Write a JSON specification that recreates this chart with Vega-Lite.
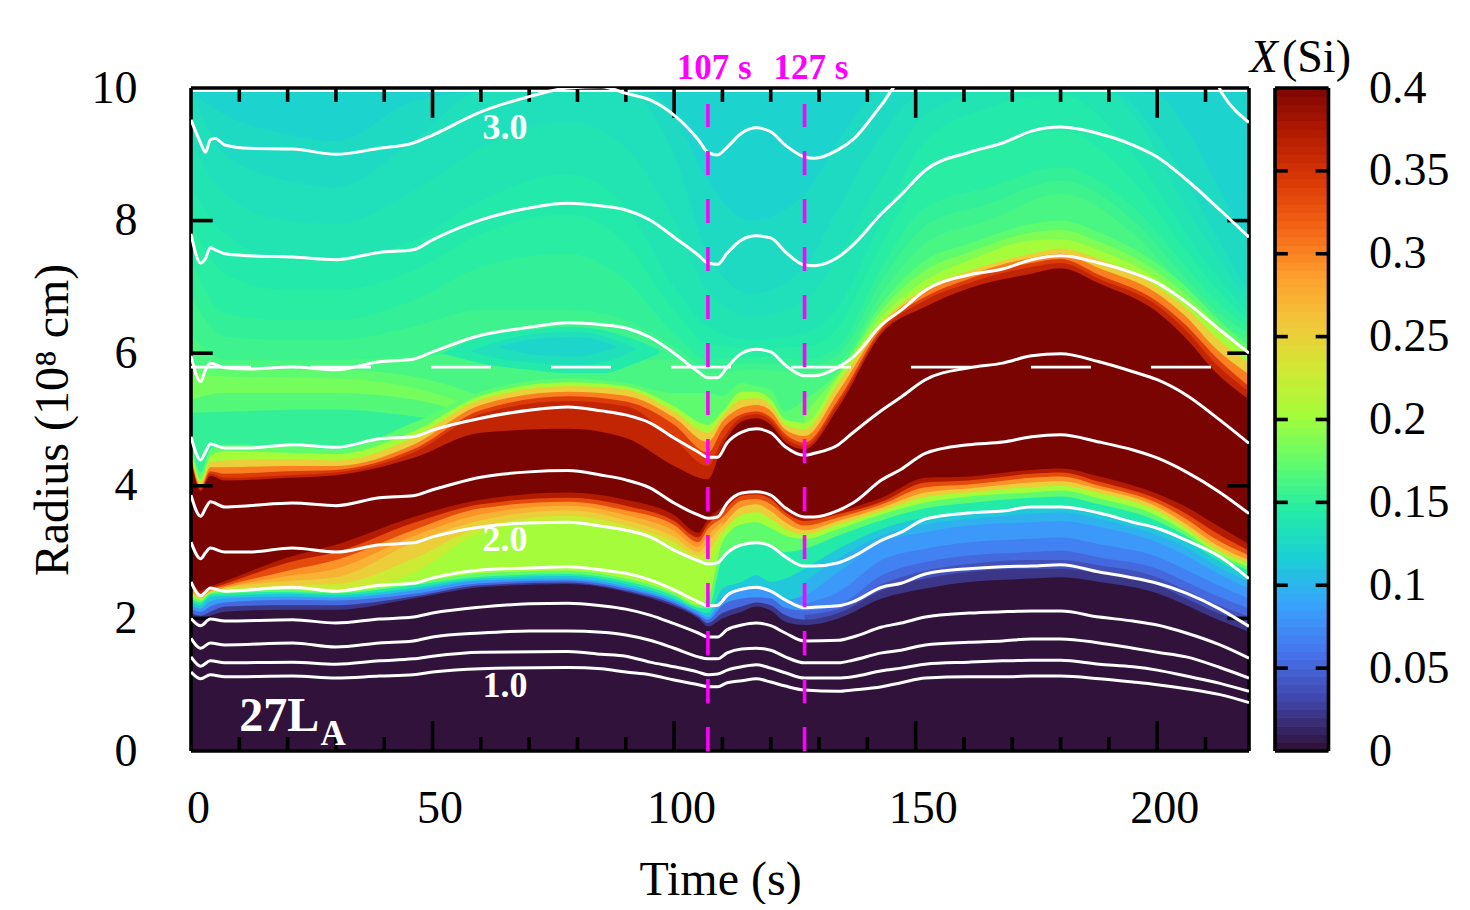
{"$schema":"https://vega.github.io/schema/vega-lite/v6.json","background":"white","padding":{"left":29,"top":35,"right":0,"bottom":0},"spacing":-2,
"config":{"view":{"stroke":null},"axis":{"grid":false,"domain":false,"ticks":false,"labelFlush":false,"labelFont":"Liberation Serif","titleFont":"Liberation Serif","labelFontSize":46,"titleFontSize":48,"labelColor":"black","titleColor":"black","titleFontWeight":"normal"},"text":{"font":"Liberation Serif"}},
"datasets":{
"bg":[{"b":1,"v":0.118,"t":0,"r":9.94},{"b":1,"v":0.118,"t":219,"r":9.94},
{"b":41,"v":0.125,"t":0,"r":9.94},{"b":41,"v":0.125,"t":7,"r":9.6},{"b":41,"v":0.125,"t":20,"r":9.3},{"b":41,"v":0.125,"t":30,"r":9.2},{"b":41,"v":0.125,"t":46,"r":9.8},{"b":41,"v":0.125,"t":60,"r":9.94},{"b":41,"v":0.125,"t":95,"r":9.94},{"b":41,"v":0.125,"t":100,"r":9.6},{"b":41,"v":0.125,"t":107,"r":8.6},{"b":41,"v":0.125,"t":116,"r":8.0},{"b":41,"v":0.125,"t":127,"r":8.4},{"b":41,"v":0.125,"t":134,"r":9.2},{"b":41,"v":0.125,"t":143,"r":9.94},{"b":41,"v":0.125,"t":195,"r":9.94},{"b":41,"v":0.125,"t":200,"r":9.9},{"b":41,"v":0.125,"t":206,"r":9.4},{"b":41,"v":0.125,"t":212,"r":8.6},{"b":41,"v":0.125,"t":219,"r":7.6},
{"b":2,"v":0.13,"t":0,"r":9.94},{"b":2,"v":0.13,"t":7,"r":9.0},{"b":2,"v":0.13,"t":20,"r":8.6},{"b":2,"v":0.13,"t":30,"r":8.5},{"b":2,"v":0.13,"t":46,"r":9.2},{"b":2,"v":0.13,"t":60,"r":9.94},{"b":2,"v":0.13,"t":90,"r":9.94},{"b":2,"v":0.13,"t":100,"r":9.0},{"b":2,"v":0.13,"t":107,"r":7.5},{"b":2,"v":0.13,"t":116,"r":6.9},{"b":2,"v":0.13,"t":127,"r":7.3},{"b":2,"v":0.13,"t":134,"r":8.2},{"b":2,"v":0.13,"t":143,"r":9.3},{"b":2,"v":0.13,"t":152,"r":9.94},{"b":2,"v":0.13,"t":190,"r":9.94},{"b":2,"v":0.13,"t":200,"r":9.3},{"b":2,"v":0.13,"t":206,"r":8.6},{"b":2,"v":0.13,"t":212,"r":7.8},{"b":2,"v":0.13,"t":219,"r":6.9},
{"b":42,"v":0.135,"t":0,"r":9.2},{"b":42,"v":0.135,"t":7,"r":8.4},{"b":42,"v":0.135,"t":20,"r":8.0},{"b":42,"v":0.135,"t":30,"r":7.95},{"b":42,"v":0.135,"t":46,"r":8.45},{"b":42,"v":0.135,"t":60,"r":9.1},{"b":42,"v":0.135,"t":78,"r":9.5},{"b":42,"v":0.135,"t":90,"r":9.1},{"b":42,"v":0.135,"t":100,"r":8.0},{"b":42,"v":0.135,"t":107,"r":6.95},{"b":42,"v":0.135,"t":116,"r":6.55},{"b":42,"v":0.135,"t":127,"r":6.8},{"b":42,"v":0.135,"t":134,"r":7.45},{"b":42,"v":0.135,"t":143,"r":8.65},{"b":42,"v":0.135,"t":152,"r":9.6},{"b":42,"v":0.135,"t":165,"r":9.94},{"b":42,"v":0.135,"t":190,"r":9.94},{"b":42,"v":0.135,"t":195,"r":9.6},{"b":42,"v":0.135,"t":206,"r":8.2},{"b":42,"v":0.135,"t":212,"r":7.5},{"b":42,"v":0.135,"t":219,"r":6.75},
{"b":3,"v":0.14,"t":0,"r":8.5},{"b":3,"v":0.14,"t":7,"r":7.8},{"b":3,"v":0.14,"t":20,"r":7.4},{"b":3,"v":0.14,"t":30,"r":7.4},{"b":3,"v":0.14,"t":46,"r":7.7},{"b":3,"v":0.14,"t":60,"r":8.3},{"b":3,"v":0.14,"t":78,"r":8.7},{"b":3,"v":0.14,"t":90,"r":8.2},{"b":3,"v":0.14,"t":100,"r":7.0},{"b":3,"v":0.14,"t":107,"r":6.4},{"b":3,"v":0.14,"t":116,"r":6.2},{"b":3,"v":0.14,"t":127,"r":6.3},{"b":3,"v":0.14,"t":134,"r":6.7},{"b":3,"v":0.14,"t":143,"r":8.0},{"b":3,"v":0.14,"t":152,"r":9.2},{"b":3,"v":0.14,"t":165,"r":9.7},{"b":3,"v":0.14,"t":180,"r":9.9},{"b":3,"v":0.14,"t":195,"r":9.0},{"b":3,"v":0.14,"t":206,"r":7.8},{"b":3,"v":0.14,"t":212,"r":7.2},{"b":3,"v":0.14,"t":219,"r":6.6},
{"b":43,"v":0.145,"t":0,"r":7.95},{"b":43,"v":0.145,"t":7,"r":7.2},{"b":43,"v":0.145,"t":20,"r":6.95},{"b":43,"v":0.145,"t":30,"r":6.95},{"b":43,"v":0.145,"t":46,"r":7.25},{"b":43,"v":0.145,"t":60,"r":7.8},{"b":43,"v":0.145,"t":78,"r":8.1},{"b":43,"v":0.145,"t":90,"r":7.65},{"b":43,"v":0.145,"t":100,"r":6.65},{"b":43,"v":0.145,"t":107,"r":6.15},{"b":43,"v":0.145,"t":116,"r":6.08},{"b":43,"v":0.145,"t":127,"r":6.1},{"b":43,"v":0.145,"t":134,"r":6.4},{"b":43,"v":0.145,"t":143,"r":7.65},{"b":43,"v":0.145,"t":152,"r":8.7},{"b":43,"v":0.145,"t":165,"r":9.1},{"b":43,"v":0.145,"t":180,"r":9.35},{"b":43,"v":0.145,"t":195,"r":8.6},{"b":43,"v":0.145,"t":206,"r":7.55},{"b":43,"v":0.145,"t":212,"r":7.0},{"b":43,"v":0.145,"t":219,"r":6.5},
{"b":4,"v":0.15,"t":0,"r":7.4},{"b":4,"v":0.15,"t":7,"r":6.6},{"b":4,"v":0.15,"t":20,"r":6.5},{"b":4,"v":0.15,"t":30,"r":6.5},{"b":4,"v":0.15,"t":46,"r":6.8},{"b":4,"v":0.15,"t":60,"r":7.3},{"b":4,"v":0.15,"t":78,"r":7.5},{"b":4,"v":0.15,"t":90,"r":7.1},{"b":4,"v":0.15,"t":100,"r":6.3},{"b":4,"v":0.15,"t":107,"r":5.9},{"b":4,"v":0.15,"t":116,"r":5.95},{"b":4,"v":0.15,"t":127,"r":5.9},{"b":4,"v":0.15,"t":134,"r":6.1},{"b":4,"v":0.15,"t":143,"r":7.3},{"b":4,"v":0.15,"t":152,"r":8.2},{"b":4,"v":0.15,"t":165,"r":8.5},{"b":4,"v":0.15,"t":180,"r":8.8},{"b":4,"v":0.15,"t":195,"r":8.2},{"b":4,"v":0.15,"t":206,"r":7.3},{"b":4,"v":0.15,"t":212,"r":6.8},{"b":4,"v":0.15,"t":219,"r":6.4},
{"b":44,"v":0.155,"t":0,"r":6.85},{"b":44,"v":0.155,"t":7,"r":6.25},{"b":44,"v":0.155,"t":20,"r":6.2},{"b":44,"v":0.155,"t":30,"r":6.2},{"b":44,"v":0.155,"t":46,"r":6.4},{"b":44,"v":0.155,"t":60,"r":6.65},{"b":44,"v":0.155,"t":78,"r":6.65},{"b":44,"v":0.155,"t":90,"r":6.5},{"b":44,"v":0.155,"t":100,"r":6.1},{"b":44,"v":0.155,"t":107,"r":5.8},{"b":44,"v":0.155,"t":116,"r":5.85},{"b":44,"v":0.155,"t":127,"r":5.8},{"b":44,"v":0.155,"t":134,"r":5.98},{"b":44,"v":0.155,"t":143,"r":7.1},{"b":44,"v":0.155,"t":152,"r":7.92},{"b":44,"v":0.155,"t":165,"r":8.25},{"b":44,"v":0.155,"t":180,"r":8.6},{"b":44,"v":0.155,"t":195,"r":8.0},{"b":44,"v":0.155,"t":206,"r":7.12},{"b":44,"v":0.155,"t":212,"r":6.65},{"b":44,"v":0.155,"t":219,"r":6.3},
{"b":5,"v":0.16,"t":0,"r":6.3},{"b":5,"v":0.16,"t":7,"r":5.9},{"b":5,"v":0.16,"t":20,"r":5.9},{"b":5,"v":0.16,"t":30,"r":5.9},{"b":5,"v":0.16,"t":46,"r":5.95},{"b":5,"v":0.16,"t":60,"r":6.0},{"b":5,"v":0.16,"t":78,"r":5.8},{"b":5,"v":0.16,"t":90,"r":5.9},{"b":5,"v":0.16,"t":100,"r":5.9},{"b":5,"v":0.16,"t":107,"r":5.7},{"b":5,"v":0.16,"t":116,"r":5.75},{"b":5,"v":0.16,"t":127,"r":5.7},{"b":5,"v":0.16,"t":134,"r":5.85},{"b":5,"v":0.16,"t":143,"r":6.9},{"b":5,"v":0.16,"t":152,"r":7.65},{"b":5,"v":0.16,"t":165,"r":8.0},{"b":5,"v":0.16,"t":180,"r":8.4},{"b":5,"v":0.16,"t":195,"r":7.8},{"b":5,"v":0.16,"t":206,"r":6.95},{"b":5,"v":0.16,"t":212,"r":6.5},{"b":5,"v":0.16,"t":219,"r":6.2},
{"b":6,"v":0.17,"t":0,"r":5.85},{"b":6,"v":0.17,"t":7,"r":5.75},{"b":6,"v":0.17,"t":30,"r":5.75},{"b":6,"v":0.17,"t":46,"r":5.65},{"b":6,"v":0.17,"t":62,"r":5.3},
{"b":7,"v":0.18,"t":0,"r":5.7},{"b":7,"v":0.18,"t":7,"r":5.65},{"b":7,"v":0.18,"t":30,"r":5.62},{"b":7,"v":0.18,"t":46,"r":5.48},{"b":7,"v":0.18,"t":62,"r":5.1},
{"b":8,"v":0.165,"t":0,"r":5.3},{"b":8,"v":0.165,"t":7,"r":5.4},{"b":8,"v":0.165,"t":30,"r":5.4},{"b":8,"v":0.165,"t":46,"r":5.3},{"b":8,"v":0.165,"t":62,"r":5.0},
{"b":9,"v":0.15,"t":0,"r":5.1},{"b":9,"v":0.15,"t":30,"r":5.15},{"b":9,"v":0.15,"t":46,"r":5.05},{"b":9,"v":0.15,"t":62,"r":4.9}],
"blobs":[{"b":1,"v":0.14,"t":52,"r":6.0,"r0":6.0},{"b":1,"v":0.14,"t":60,"r":6.25,"r0":5.85},{"b":1,"v":0.14,"t":70,"r":6.35,"r0":5.75},{"b":1,"v":0.14,"t":78,"r":6.4,"r0":5.7},{"b":1,"v":0.14,"t":85,"r":6.35,"r0":5.7},{"b":1,"v":0.14,"t":92,"r":6.2,"r0":5.85},{"b":1,"v":0.14,"t":97,"r":6.05,"r0":6.0},
{"b":2,"v":0.13,"t":58,"r":6.04,"r0":6.02},{"b":2,"v":0.13,"t":65,"r":6.2,"r0":5.9},{"b":2,"v":0.13,"t":72,"r":6.3,"r0":5.85},{"b":2,"v":0.13,"t":80,"r":6.32,"r0":5.82},{"b":2,"v":0.13,"t":87,"r":6.22,"r0":5.9},{"b":2,"v":0.13,"t":92,"r":6.07,"r0":6.05},
{"b":3,"v":0.12,"t":64,"r":6.1,"r0":6.08},{"b":3,"v":0.12,"t":72,"r":6.22,"r0":5.97},{"b":3,"v":0.12,"t":80,"r":6.24,"r0":5.95},{"b":3,"v":0.12,"t":85,"r":6.18,"r0":6.02},{"b":3,"v":0.12,"t":88,"r":6.1,"r0":6.09}],
"heat":[
{"b":11,"v":0.17,"t":0,"r":4.7},{"b":11,"v":0.17,"t":2,"r":4.2},{"b":11,"v":0.17,"t":4,"r":4.55},{"b":11,"v":0.17,"t":7,"r":4.62},{"b":11,"v":0.17,"t":20,"r":4.6},{"b":11,"v":0.17,"t":30,"r":4.55},{"b":11,"v":0.17,"t":46,"r":4.95},{"b":11,"v":0.17,"t":60,"r":5.42},{"b":11,"v":0.17,"t":78,"r":5.62},{"b":11,"v":0.17,"t":90,"r":5.55},{"b":11,"v":0.17,"t":100,"r":5.4},{"b":11,"v":0.17,"t":107,"r":5.4},{"b":11,"v":0.17,"t":110,"r":5.35},{"b":11,"v":0.17,"t":114,"r":5.55},{"b":11,"v":0.17,"t":117,"r":5.5},{"b":11,"v":0.17,"t":120,"r":5.45},{"b":11,"v":0.17,"t":123,"r":5.12},{"b":11,"v":0.17,"t":127,"r":5.3},{"b":11,"v":0.17,"t":134,"r":5.72},{"b":11,"v":0.17,"t":143,"r":6.75},{"b":11,"v":0.17,"t":152,"r":7.4},{"b":11,"v":0.17,"t":161,"r":7.65},{"b":11,"v":0.17,"t":174,"r":7.95},{"b":11,"v":0.17,"t":180,"r":8.0},{"b":11,"v":0.17,"t":188,"r":7.82},{"b":11,"v":0.17,"t":200,"r":7.35},{"b":11,"v":0.17,"t":206,"r":7.0},{"b":11,"v":0.17,"t":212,"r":6.55},{"b":11,"v":0.17,"t":219,"r":6.1},
{"b":50,"v":0.185,"t":127,"r":5.1},{"b":50,"v":0.185,"t":134,"r":5.68},{"b":50,"v":0.185,"t":143,"r":6.65},{"b":50,"v":0.185,"t":152,"r":7.25},{"b":50,"v":0.185,"t":161,"r":7.52},{"b":50,"v":0.185,"t":174,"r":7.82},{"b":50,"v":0.185,"t":180,"r":7.86},{"b":50,"v":0.185,"t":188,"r":7.68},{"b":50,"v":0.185,"t":200,"r":7.23},{"b":50,"v":0.185,"t":206,"r":6.88},{"b":50,"v":0.185,"t":212,"r":6.46},{"b":50,"v":0.185,"t":219,"r":6.04},
{"b":12,"v":0.2,"t":0,"r":4.6},{"b":12,"v":0.2,"t":2,"r":4.1},{"b":12,"v":0.2,"t":4,"r":4.45},{"b":12,"v":0.2,"t":7,"r":4.52},{"b":12,"v":0.2,"t":20,"r":4.5},{"b":12,"v":0.2,"t":30,"r":4.48},{"b":12,"v":0.2,"t":46,"r":4.82},{"b":12,"v":0.2,"t":60,"r":5.36},{"b":12,"v":0.2,"t":78,"r":5.56},{"b":12,"v":0.2,"t":90,"r":5.5},{"b":12,"v":0.2,"t":100,"r":5.2},{"b":12,"v":0.2,"t":107,"r":4.92},{"b":12,"v":0.2,"t":110,"r":5.12},{"b":12,"v":0.2,"t":114,"r":5.42},{"b":12,"v":0.2,"t":117,"r":5.42},{"b":12,"v":0.2,"t":120,"r":5.3},{"b":12,"v":0.2,"t":123,"r":5.0},{"b":12,"v":0.2,"t":127,"r":4.95},{"b":12,"v":0.2,"t":134,"r":5.65},{"b":12,"v":0.2,"t":143,"r":6.55},{"b":12,"v":0.2,"t":152,"r":7.1},{"b":12,"v":0.2,"t":161,"r":7.4},{"b":12,"v":0.2,"t":174,"r":7.7},{"b":12,"v":0.2,"t":180,"r":7.72},{"b":12,"v":0.2,"t":188,"r":7.55},{"b":12,"v":0.2,"t":200,"r":7.12},{"b":12,"v":0.2,"t":206,"r":6.78},{"b":12,"v":0.2,"t":212,"r":6.38},{"b":12,"v":0.2,"t":219,"r":5.98},
{"b":13,"v":0.25,"t":0,"r":4.5},{"b":13,"v":0.25,"t":2,"r":4.05},{"b":13,"v":0.25,"t":4,"r":4.35},{"b":13,"v":0.25,"t":7,"r":4.38},{"b":13,"v":0.25,"t":20,"r":4.4},{"b":13,"v":0.25,"t":30,"r":4.38},{"b":13,"v":0.25,"t":46,"r":4.72},{"b":13,"v":0.25,"t":60,"r":5.3},{"b":13,"v":0.25,"t":78,"r":5.5},{"b":13,"v":0.25,"t":90,"r":5.45},{"b":13,"v":0.25,"t":100,"r":5.12},{"b":13,"v":0.25,"t":107,"r":4.8},{"b":13,"v":0.25,"t":110,"r":5.05},{"b":13,"v":0.25,"t":114,"r":5.3},{"b":13,"v":0.25,"t":117,"r":5.32},{"b":13,"v":0.25,"t":120,"r":5.22},{"b":13,"v":0.25,"t":123,"r":4.92},{"b":13,"v":0.25,"t":127,"r":4.85},{"b":13,"v":0.25,"t":134,"r":5.55},{"b":13,"v":0.25,"t":143,"r":6.47},{"b":13,"v":0.25,"t":152,"r":6.98},{"b":13,"v":0.25,"t":161,"r":7.24},{"b":13,"v":0.25,"t":174,"r":7.5},{"b":13,"v":0.25,"t":180,"r":7.58},{"b":13,"v":0.25,"t":188,"r":7.42},{"b":13,"v":0.25,"t":200,"r":7.0},{"b":13,"v":0.25,"t":206,"r":6.68},{"b":13,"v":0.25,"t":212,"r":6.25},{"b":13,"v":0.25,"t":219,"r":5.85},
{"b":14,"v":0.3,"t":0,"r":4.45},{"b":14,"v":0.3,"t":2,"r":4.0},{"b":14,"v":0.3,"t":4,"r":4.28},{"b":14,"v":0.3,"t":7,"r":4.28},{"b":14,"v":0.3,"t":20,"r":4.3},{"b":14,"v":0.3,"t":30,"r":4.3},{"b":14,"v":0.3,"t":46,"r":4.62},{"b":14,"v":0.3,"t":60,"r":5.22},{"b":14,"v":0.3,"t":78,"r":5.42},{"b":14,"v":0.3,"t":90,"r":5.36},{"b":14,"v":0.3,"t":100,"r":5.03},{"b":14,"v":0.3,"t":107,"r":4.66},{"b":14,"v":0.3,"t":110,"r":4.97},{"b":14,"v":0.3,"t":114,"r":5.18},{"b":14,"v":0.3,"t":117,"r":5.22},{"b":14,"v":0.3,"t":120,"r":5.13},{"b":14,"v":0.3,"t":123,"r":4.85},{"b":14,"v":0.3,"t":127,"r":4.75},{"b":14,"v":0.3,"t":134,"r":5.42},{"b":14,"v":0.3,"t":143,"r":6.42},{"b":14,"v":0.3,"t":152,"r":6.93},{"b":14,"v":0.3,"t":161,"r":7.18},{"b":14,"v":0.3,"t":174,"r":7.44},{"b":14,"v":0.3,"t":180,"r":7.5},{"b":14,"v":0.3,"t":188,"r":7.28},{"b":14,"v":0.3,"t":200,"r":6.9},{"b":14,"v":0.3,"t":206,"r":6.55},{"b":14,"v":0.3,"t":212,"r":6.08},{"b":14,"v":0.3,"t":219,"r":5.68},
{"b":15,"v":0.34,"t":0,"r":4.42},{"b":15,"v":0.34,"t":2,"r":3.97},{"b":15,"v":0.34,"t":4,"r":4.22},{"b":15,"v":0.34,"t":7,"r":4.18},{"b":15,"v":0.34,"t":20,"r":4.22},{"b":15,"v":0.34,"t":30,"r":4.24},{"b":15,"v":0.34,"t":46,"r":4.55},{"b":15,"v":0.34,"t":60,"r":5.14},{"b":15,"v":0.34,"t":78,"r":5.35},{"b":15,"v":0.34,"t":90,"r":5.27},{"b":15,"v":0.34,"t":100,"r":4.92},{"b":15,"v":0.34,"t":107,"r":4.5},{"b":15,"v":0.34,"t":110,"r":4.85},{"b":15,"v":0.34,"t":114,"r":5.08},{"b":15,"v":0.34,"t":117,"r":5.12},{"b":15,"v":0.34,"t":120,"r":5.03},{"b":15,"v":0.34,"t":123,"r":4.78},{"b":15,"v":0.34,"t":127,"r":4.65},{"b":15,"v":0.34,"t":134,"r":5.3},{"b":15,"v":0.34,"t":143,"r":6.38},{"b":15,"v":0.34,"t":152,"r":6.85},{"b":15,"v":0.34,"t":161,"r":7.12},{"b":15,"v":0.34,"t":174,"r":7.36},{"b":15,"v":0.34,"t":180,"r":7.42},{"b":15,"v":0.34,"t":188,"r":7.18},{"b":15,"v":0.34,"t":200,"r":6.78},{"b":15,"v":0.34,"t":206,"r":6.42},{"b":15,"v":0.34,"t":212,"r":5.95},{"b":15,"v":0.34,"t":219,"r":5.5},
{"b":16,"v":0.36,"t":0,"r":4.4},{"b":16,"v":0.36,"t":2,"r":3.95},{"b":16,"v":0.36,"t":4,"r":4.18},{"b":16,"v":0.36,"t":7,"r":4.12},{"b":16,"v":0.36,"t":20,"r":4.16},{"b":16,"v":0.36,"t":30,"r":4.2},{"b":16,"v":0.36,"t":46,"r":4.5},{"b":16,"v":0.36,"t":60,"r":5.08},{"b":16,"v":0.36,"t":78,"r":5.28},{"b":16,"v":0.36,"t":90,"r":5.2},{"b":16,"v":0.36,"t":100,"r":4.7},{"b":16,"v":0.36,"t":107,"r":4.3},{"b":16,"v":0.36,"t":110,"r":4.7},{"b":16,"v":0.36,"t":114,"r":5.03},{"b":16,"v":0.36,"t":117,"r":5.08},{"b":16,"v":0.36,"t":120,"r":4.98},{"b":16,"v":0.36,"t":123,"r":4.72},{"b":16,"v":0.36,"t":127,"r":4.6},{"b":16,"v":0.36,"t":134,"r":5.25},{"b":16,"v":0.36,"t":143,"r":6.34},{"b":16,"v":0.36,"t":152,"r":6.8},{"b":16,"v":0.36,"t":161,"r":7.06},{"b":16,"v":0.36,"t":174,"r":7.3},{"b":16,"v":0.36,"t":180,"r":7.36},{"b":16,"v":0.36,"t":188,"r":7.12},{"b":16,"v":0.36,"t":200,"r":6.72},{"b":16,"v":0.36,"t":206,"r":6.34},{"b":16,"v":0.36,"t":212,"r":5.85},{"b":16,"v":0.36,"t":219,"r":5.42},
{"b":17,"v":0.4,"t":0,"r":4.38},{"b":17,"v":0.4,"t":2,"r":3.92},{"b":17,"v":0.4,"t":4,"r":4.15},{"b":17,"v":0.4,"t":7,"r":4.08},{"b":17,"v":0.4,"t":20,"r":4.12},{"b":17,"v":0.4,"t":30,"r":4.16},{"b":17,"v":0.4,"t":46,"r":4.42},{"b":17,"v":0.4,"t":60,"r":4.8},{"b":17,"v":0.4,"t":78,"r":4.86},{"b":17,"v":0.4,"t":90,"r":4.72},{"b":17,"v":0.4,"t":100,"r":4.3},{"b":17,"v":0.4,"t":107,"r":4.1},{"b":17,"v":0.4,"t":110,"r":4.6},{"b":17,"v":0.4,"t":114,"r":4.97},{"b":17,"v":0.4,"t":117,"r":5.02},{"b":17,"v":0.4,"t":120,"r":4.92},{"b":17,"v":0.4,"t":123,"r":4.66},{"b":17,"v":0.4,"t":127,"r":4.55},{"b":17,"v":0.4,"t":134,"r":5.18},{"b":17,"v":0.4,"t":143,"r":6.3},{"b":17,"v":0.4,"t":152,"r":6.7},{"b":17,"v":0.4,"t":161,"r":6.98},{"b":17,"v":0.4,"t":174,"r":7.2},{"b":17,"v":0.4,"t":180,"r":7.28},{"b":17,"v":0.4,"t":188,"r":7.05},{"b":17,"v":0.4,"t":200,"r":6.62},{"b":17,"v":0.4,"t":206,"r":6.22},{"b":17,"v":0.4,"t":212,"r":5.72},{"b":17,"v":0.4,"t":219,"r":5.3},
{"b":21,"v":0.37,"t":0,"r":2.55},{"b":21,"v":0.37,"t":2,"r":2.42},{"b":21,"v":0.37,"t":4,"r":2.48},{"b":21,"v":0.37,"t":7,"r":2.56},{"b":21,"v":0.37,"t":20,"r":2.92},{"b":21,"v":0.37,"t":30,"r":3.11},{"b":21,"v":0.37,"t":46,"r":3.53},{"b":21,"v":0.37,"t":60,"r":3.79},{"b":21,"v":0.37,"t":78,"r":3.9},{"b":21,"v":0.37,"t":90,"r":3.79},{"b":21,"v":0.37,"t":100,"r":3.56},{"b":21,"v":0.37,"t":105,"r":3.29},{"b":21,"v":0.37,"t":107,"r":3.5},{"b":21,"v":0.37,"t":110,"r":3.68},{"b":21,"v":0.37,"t":114,"r":3.9},{"b":21,"v":0.37,"t":117,"r":3.92},{"b":21,"v":0.37,"t":120,"r":3.85},{"b":21,"v":0.37,"t":123,"r":3.66},{"b":21,"v":0.37,"t":127,"r":3.53},{"b":21,"v":0.37,"t":134,"r":3.62},{"b":21,"v":0.37,"t":143,"r":3.82},{"b":21,"v":0.37,"t":152,"r":4.12},{"b":21,"v":0.37,"t":161,"r":4.14},{"b":21,"v":0.37,"t":174,"r":4.24},{"b":21,"v":0.37,"t":180,"r":4.26},{"b":21,"v":0.37,"t":188,"r":4.14},{"b":21,"v":0.37,"t":200,"r":3.88},{"b":21,"v":0.37,"t":206,"r":3.68},{"b":21,"v":0.37,"t":212,"r":3.42},{"b":21,"v":0.37,"t":219,"r":3.12},
{"b":22,"v":0.33,"t":0,"r":2.5},{"b":22,"v":0.33,"t":2,"r":2.38},{"b":22,"v":0.33,"t":4,"r":2.45},{"b":22,"v":0.33,"t":7,"r":2.52},{"b":22,"v":0.33,"t":20,"r":2.84},{"b":22,"v":0.33,"t":30,"r":3.0},{"b":22,"v":0.33,"t":46,"r":3.44},{"b":22,"v":0.33,"t":60,"r":3.72},{"b":22,"v":0.33,"t":78,"r":3.82},{"b":22,"v":0.33,"t":90,"r":3.7},{"b":22,"v":0.33,"t":100,"r":3.47},{"b":22,"v":0.33,"t":105,"r":3.22},{"b":22,"v":0.33,"t":107,"r":3.42},{"b":22,"v":0.33,"t":110,"r":3.6},{"b":22,"v":0.33,"t":114,"r":3.85},{"b":22,"v":0.33,"t":117,"r":3.87},{"b":22,"v":0.33,"t":120,"r":3.8},{"b":22,"v":0.33,"t":123,"r":3.6},{"b":22,"v":0.33,"t":127,"r":3.47},{"b":22,"v":0.33,"t":134,"r":3.57},{"b":22,"v":0.33,"t":143,"r":3.76},{"b":22,"v":0.33,"t":152,"r":4.05},{"b":22,"v":0.33,"t":161,"r":4.08},{"b":22,"v":0.33,"t":174,"r":4.18},{"b":22,"v":0.33,"t":180,"r":4.2},{"b":22,"v":0.33,"t":188,"r":4.06},{"b":22,"v":0.33,"t":200,"r":3.8},{"b":22,"v":0.33,"t":206,"r":3.58},{"b":22,"v":0.33,"t":212,"r":3.3},{"b":22,"v":0.33,"t":219,"r":3.02},
{"b":23,"v":0.29,"t":0,"r":2.45},{"b":23,"v":0.29,"t":2,"r":2.35},{"b":23,"v":0.29,"t":4,"r":2.43},{"b":23,"v":0.29,"t":7,"r":2.49},{"b":23,"v":0.29,"t":20,"r":2.72},{"b":23,"v":0.29,"t":30,"r":2.88},{"b":23,"v":0.29,"t":46,"r":3.33},{"b":23,"v":0.29,"t":60,"r":3.66},{"b":23,"v":0.29,"t":78,"r":3.76},{"b":23,"v":0.29,"t":90,"r":3.63},{"b":23,"v":0.29,"t":100,"r":3.41},{"b":23,"v":0.29,"t":105,"r":3.15},{"b":23,"v":0.29,"t":107,"r":3.35},{"b":23,"v":0.29,"t":110,"r":3.52},{"b":23,"v":0.29,"t":114,"r":3.78},{"b":23,"v":0.29,"t":117,"r":3.8},{"b":23,"v":0.29,"t":120,"r":3.72},{"b":23,"v":0.29,"t":123,"r":3.55},{"b":23,"v":0.29,"t":127,"r":3.4},{"b":23,"v":0.29,"t":134,"r":3.52},{"b":23,"v":0.29,"t":143,"r":3.72},{"b":23,"v":0.29,"t":152,"r":3.98},{"b":23,"v":0.29,"t":161,"r":4.02},{"b":23,"v":0.29,"t":174,"r":4.12},{"b":23,"v":0.29,"t":180,"r":4.14},{"b":23,"v":0.29,"t":188,"r":4.0},{"b":23,"v":0.29,"t":200,"r":3.74},{"b":23,"v":0.29,"t":206,"r":3.5},{"b":23,"v":0.29,"t":212,"r":3.2},{"b":23,"v":0.29,"t":219,"r":2.95},
{"b":51,"v":0.27,"t":7,"r":2.47},{"b":51,"v":0.27,"t":20,"r":2.64},{"b":51,"v":0.27,"t":30,"r":2.75},{"b":51,"v":0.27,"t":46,"r":3.24},{"b":51,"v":0.27,"t":60,"r":3.57},{"b":51,"v":0.27,"t":78,"r":3.7},{"b":51,"v":0.27,"t":90,"r":3.56},{"b":51,"v":0.27,"t":100,"r":3.32},{"b":51,"v":0.27,"t":105,"r":3.08},{"b":51,"v":0.27,"t":107,"r":3.25},{"b":51,"v":0.27,"t":110,"r":3.46},
{"b":24,"v":0.25,"t":0,"r":2.42},{"b":24,"v":0.25,"t":2,"r":2.32},{"b":24,"v":0.25,"t":4,"r":2.41},{"b":24,"v":0.25,"t":7,"r":2.46},{"b":24,"v":0.25,"t":20,"r":2.56},{"b":24,"v":0.25,"t":30,"r":2.62},{"b":24,"v":0.25,"t":46,"r":3.14},{"b":24,"v":0.25,"t":60,"r":3.48},{"b":24,"v":0.25,"t":78,"r":3.63},{"b":24,"v":0.25,"t":90,"r":3.48},{"b":24,"v":0.25,"t":100,"r":3.23},{"b":24,"v":0.25,"t":105,"r":3.0},{"b":24,"v":0.25,"t":107,"r":3.15},{"b":24,"v":0.25,"t":110,"r":3.4},{"b":24,"v":0.25,"t":114,"r":3.68},{"b":24,"v":0.25,"t":117,"r":3.72},{"b":24,"v":0.25,"t":120,"r":3.62},{"b":24,"v":0.25,"t":123,"r":3.45},{"b":24,"v":0.25,"t":127,"r":3.33},{"b":24,"v":0.25,"t":134,"r":3.47},{"b":24,"v":0.25,"t":143,"r":3.67},{"b":24,"v":0.25,"t":152,"r":3.9},{"b":24,"v":0.25,"t":161,"r":3.96},{"b":24,"v":0.25,"t":174,"r":4.05},{"b":24,"v":0.25,"t":180,"r":4.07},{"b":24,"v":0.25,"t":188,"r":3.95},{"b":24,"v":0.25,"t":200,"r":3.68},{"b":24,"v":0.25,"t":206,"r":3.42},{"b":24,"v":0.25,"t":212,"r":3.12},{"b":24,"v":0.25,"t":219,"r":2.88},
{"b":52,"v":0.225,"t":7,"r":2.45},{"b":52,"v":0.225,"t":20,"r":2.5},{"b":52,"v":0.225,"t":30,"r":2.52},{"b":52,"v":0.225,"t":46,"r":2.9},{"b":52,"v":0.225,"t":60,"r":3.38},{"b":52,"v":0.225,"t":78,"r":3.55},{"b":52,"v":0.225,"t":90,"r":3.4},{"b":52,"v":0.225,"t":100,"r":3.15},{"b":52,"v":0.225,"t":105,"r":2.94},{"b":52,"v":0.225,"t":107,"r":3.02},{"b":52,"v":0.225,"t":110,"r":3.34},
{"b":25,"v":0.2,"t":0,"r":2.38},{"b":25,"v":0.2,"t":2,"r":2.3},{"b":25,"v":0.2,"t":4,"r":2.4},{"b":25,"v":0.2,"t":7,"r":2.44},{"b":25,"v":0.2,"t":20,"r":2.46},{"b":25,"v":0.2,"t":30,"r":2.43},{"b":25,"v":0.2,"t":46,"r":2.68},{"b":25,"v":0.2,"t":60,"r":3.29},{"b":25,"v":0.2,"t":78,"r":3.48},{"b":25,"v":0.2,"t":90,"r":3.3},{"b":25,"v":0.2,"t":100,"r":3.08},{"b":25,"v":0.2,"t":105,"r":2.88},{"b":25,"v":0.2,"t":107,"r":2.9},{"b":25,"v":0.2,"t":110,"r":3.28},{"b":25,"v":0.2,"t":114,"r":3.56},{"b":25,"v":0.2,"t":117,"r":3.6},{"b":25,"v":0.2,"t":120,"r":3.5},{"b":25,"v":0.2,"t":123,"r":3.35},{"b":25,"v":0.2,"t":127,"r":3.27},{"b":25,"v":0.2,"t":134,"r":3.42},{"b":25,"v":0.2,"t":143,"r":3.62},{"b":25,"v":0.2,"t":152,"r":3.83},{"b":25,"v":0.2,"t":161,"r":3.9},{"b":25,"v":0.2,"t":174,"r":3.98},{"b":25,"v":0.2,"t":180,"r":4.0},{"b":25,"v":0.2,"t":188,"r":3.89},{"b":25,"v":0.2,"t":200,"r":3.62},{"b":25,"v":0.2,"t":206,"r":3.36},{"b":25,"v":0.2,"t":212,"r":3.05},{"b":25,"v":0.2,"t":219,"r":2.83},
{"b":26,"v":0.17,"t":0,"r":2.34},{"b":26,"v":0.17,"t":2,"r":2.27},{"b":26,"v":0.17,"t":4,"r":2.38},{"b":26,"v":0.17,"t":7,"r":2.41},{"b":26,"v":0.17,"t":20,"r":2.43},{"b":26,"v":0.17,"t":30,"r":2.4},{"b":26,"v":0.17,"t":46,"r":2.53},{"b":26,"v":0.17,"t":60,"r":2.68},{"b":26,"v":0.17,"t":78,"r":2.72},{"b":26,"v":0.17,"t":90,"r":2.6},{"b":26,"v":0.17,"t":100,"r":2.38},{"b":26,"v":0.17,"t":105,"r":2.2},{"b":26,"v":0.17,"t":107,"r":2.3},{"b":26,"v":0.17,"t":110,"r":3.15},{"b":26,"v":0.17,"t":114,"r":3.42},{"b":26,"v":0.17,"t":117,"r":3.45},{"b":26,"v":0.17,"t":120,"r":3.36},{"b":26,"v":0.17,"t":123,"r":3.25},{"b":26,"v":0.17,"t":127,"r":3.2},{"b":26,"v":0.17,"t":134,"r":3.35},{"b":26,"v":0.17,"t":143,"r":3.57},{"b":26,"v":0.17,"t":152,"r":3.75},{"b":26,"v":0.17,"t":161,"r":3.84},{"b":26,"v":0.17,"t":174,"r":3.9},{"b":26,"v":0.17,"t":180,"r":3.93},{"b":26,"v":0.17,"t":188,"r":3.81},{"b":26,"v":0.17,"t":200,"r":3.55},{"b":26,"v":0.17,"t":206,"r":3.3},{"b":26,"v":0.17,"t":212,"r":3.0},{"b":26,"v":0.17,"t":219,"r":2.77},
{"b":27,"v":0.14,"t":0,"r":2.3},{"b":27,"v":0.14,"t":2,"r":2.24},{"b":27,"v":0.14,"t":4,"r":2.36},{"b":27,"v":0.14,"t":7,"r":2.38},{"b":27,"v":0.14,"t":20,"r":2.4},{"b":27,"v":0.14,"t":30,"r":2.38},{"b":27,"v":0.14,"t":46,"r":2.5},{"b":27,"v":0.14,"t":60,"r":2.63},{"b":27,"v":0.14,"t":78,"r":2.67},{"b":27,"v":0.14,"t":90,"r":2.56},{"b":27,"v":0.14,"t":100,"r":2.34},{"b":27,"v":0.14,"t":105,"r":2.16},{"b":27,"v":0.14,"t":107,"r":2.15},{"b":27,"v":0.14,"t":110,"r":2.9},{"b":27,"v":0.14,"t":114,"r":3.1},{"b":27,"v":0.14,"t":117,"r":3.15},{"b":27,"v":0.14,"t":120,"r":3.1},{"b":27,"v":0.14,"t":123,"r":3.0},{"b":27,"v":0.14,"t":127,"r":3.05},{"b":27,"v":0.14,"t":134,"r":3.25},{"b":27,"v":0.14,"t":143,"r":3.48},{"b":27,"v":0.14,"t":152,"r":3.66},{"b":27,"v":0.14,"t":161,"r":3.74},{"b":27,"v":0.14,"t":174,"r":3.82},{"b":27,"v":0.14,"t":180,"r":3.84},{"b":27,"v":0.14,"t":188,"r":3.72},{"b":27,"v":0.14,"t":200,"r":3.47},{"b":27,"v":0.14,"t":206,"r":3.24},{"b":27,"v":0.14,"t":212,"r":2.96},{"b":27,"v":0.14,"t":219,"r":2.72},
{"b":28,"v":0.11,"t":0,"r":2.26},{"b":28,"v":0.11,"t":2,"r":2.2},{"b":28,"v":0.11,"t":4,"r":2.33},{"b":28,"v":0.11,"t":7,"r":2.34},{"b":28,"v":0.11,"t":20,"r":2.37},{"b":28,"v":0.11,"t":30,"r":2.35},{"b":28,"v":0.11,"t":46,"r":2.46},{"b":28,"v":0.11,"t":60,"r":2.6},{"b":28,"v":0.11,"t":78,"r":2.64},{"b":28,"v":0.11,"t":90,"r":2.52},{"b":28,"v":0.11,"t":100,"r":2.3},{"b":28,"v":0.11,"t":105,"r":2.12},{"b":28,"v":0.11,"t":107,"r":2.08},{"b":28,"v":0.11,"t":110,"r":2.45},{"b":28,"v":0.11,"t":114,"r":2.55},{"b":28,"v":0.11,"t":117,"r":2.65},{"b":28,"v":0.11,"t":120,"r":2.55},{"b":28,"v":0.11,"t":123,"r":2.6},{"b":28,"v":0.11,"t":127,"r":2.75},{"b":28,"v":0.11,"t":134,"r":3.05},{"b":28,"v":0.11,"t":143,"r":3.35},{"b":28,"v":0.11,"t":152,"r":3.52},{"b":28,"v":0.11,"t":161,"r":3.6},{"b":28,"v":0.11,"t":174,"r":3.68},{"b":28,"v":0.11,"t":180,"r":3.7},{"b":28,"v":0.11,"t":188,"r":3.6},{"b":28,"v":0.11,"t":200,"r":3.36},{"b":28,"v":0.11,"t":206,"r":3.17},{"b":28,"v":0.11,"t":212,"r":2.9},{"b":28,"v":0.11,"t":219,"r":2.62},
{"b":29,"v":0.095,"t":127,"r":2.55},{"b":29,"v":0.095,"t":134,"r":2.9},{"b":29,"v":0.095,"t":143,"r":3.25},{"b":29,"v":0.095,"t":152,"r":3.42},{"b":29,"v":0.095,"t":161,"r":3.5},{"b":29,"v":0.095,"t":174,"r":3.58},{"b":29,"v":0.095,"t":180,"r":3.6},{"b":29,"v":0.095,"t":188,"r":3.5},{"b":29,"v":0.095,"t":200,"r":3.26},{"b":29,"v":0.095,"t":206,"r":3.07},{"b":29,"v":0.095,"t":212,"r":2.8},{"b":29,"v":0.095,"t":219,"r":2.55},
{"b":30,"v":0.08,"t":0,"r":2.2},{"b":30,"v":0.08,"t":2,"r":2.15},{"b":30,"v":0.08,"t":4,"r":2.26},{"b":30,"v":0.08,"t":7,"r":2.3},{"b":30,"v":0.08,"t":20,"r":2.33},{"b":30,"v":0.08,"t":30,"r":2.31},{"b":30,"v":0.08,"t":46,"r":2.42},{"b":30,"v":0.08,"t":60,"r":2.57},{"b":30,"v":0.08,"t":78,"r":2.6},{"b":30,"v":0.08,"t":90,"r":2.48},{"b":30,"v":0.08,"t":100,"r":2.27},{"b":30,"v":0.08,"t":105,"r":2.1},{"b":30,"v":0.08,"t":107,"r":2.02},{"b":30,"v":0.08,"t":110,"r":2.32},{"b":30,"v":0.08,"t":114,"r":2.42},{"b":30,"v":0.08,"t":117,"r":2.47},{"b":30,"v":0.08,"t":120,"r":2.42},{"b":30,"v":0.08,"t":123,"r":2.28},{"b":30,"v":0.08,"t":127,"r":2.35},{"b":30,"v":0.08,"t":134,"r":2.7},{"b":30,"v":0.08,"t":143,"r":3.15},{"b":30,"v":0.08,"t":152,"r":3.3},{"b":30,"v":0.08,"t":161,"r":3.4},{"b":30,"v":0.08,"t":174,"r":3.45},{"b":30,"v":0.08,"t":180,"r":3.47},{"b":30,"v":0.08,"t":188,"r":3.38},{"b":30,"v":0.08,"t":200,"r":3.15},{"b":30,"v":0.08,"t":206,"r":2.95},{"b":30,"v":0.08,"t":212,"r":2.7},{"b":30,"v":0.08,"t":219,"r":2.45},
{"b":31,"v":0.065,"t":127,"r":2.22},{"b":31,"v":0.065,"t":134,"r":2.4},{"b":31,"v":0.065,"t":143,"r":2.88},{"b":31,"v":0.065,"t":152,"r":3.05},{"b":31,"v":0.065,"t":161,"r":3.15},{"b":31,"v":0.065,"t":174,"r":3.2},{"b":31,"v":0.065,"t":180,"r":3.22},{"b":31,"v":0.065,"t":188,"r":3.12},{"b":31,"v":0.065,"t":200,"r":2.93},{"b":31,"v":0.065,"t":206,"r":2.73},{"b":31,"v":0.065,"t":212,"r":2.52},{"b":31,"v":0.065,"t":219,"r":2.3},
{"b":32,"v":0.05,"t":0,"r":2.14},{"b":32,"v":0.05,"t":2,"r":2.1},{"b":32,"v":0.05,"t":4,"r":2.18},{"b":32,"v":0.05,"t":7,"r":2.24},{"b":32,"v":0.05,"t":20,"r":2.28},{"b":32,"v":0.05,"t":30,"r":2.27},{"b":32,"v":0.05,"t":46,"r":2.37},{"b":32,"v":0.05,"t":60,"r":2.53},{"b":32,"v":0.05,"t":78,"r":2.57},{"b":32,"v":0.05,"t":90,"r":2.45},{"b":32,"v":0.05,"t":100,"r":2.24},{"b":32,"v":0.05,"t":105,"r":2.06},{"b":32,"v":0.05,"t":107,"r":1.98},{"b":32,"v":0.05,"t":110,"r":2.2},{"b":32,"v":0.05,"t":114,"r":2.3},{"b":32,"v":0.05,"t":117,"r":2.32},{"b":32,"v":0.05,"t":120,"r":2.3},{"b":32,"v":0.05,"t":123,"r":2.16},{"b":32,"v":0.05,"t":127,"r":2.12},{"b":32,"v":0.05,"t":134,"r":2.2},{"b":32,"v":0.05,"t":143,"r":2.65},{"b":32,"v":0.05,"t":152,"r":2.85},{"b":32,"v":0.05,"t":161,"r":2.95},{"b":32,"v":0.05,"t":174,"r":3.0},{"b":32,"v":0.05,"t":180,"r":3.02},{"b":32,"v":0.05,"t":188,"r":2.92},{"b":32,"v":0.05,"t":200,"r":2.75},{"b":32,"v":0.05,"t":206,"r":2.55},{"b":32,"v":0.05,"t":212,"r":2.35},{"b":32,"v":0.05,"t":219,"r":2.15},
{"b":33,"v":0.035,"t":127,"r":2.05},{"b":33,"v":0.035,"t":134,"r":2.14},{"b":33,"v":0.035,"t":143,"r":2.52},{"b":33,"v":0.035,"t":152,"r":2.72},{"b":33,"v":0.035,"t":161,"r":2.82},{"b":33,"v":0.035,"t":174,"r":2.88},{"b":33,"v":0.035,"t":180,"r":2.88},{"b":33,"v":0.035,"t":188,"r":2.8},{"b":33,"v":0.035,"t":200,"r":2.62},{"b":33,"v":0.035,"t":206,"r":2.42},{"b":33,"v":0.035,"t":212,"r":2.22},{"b":33,"v":0.035,"t":219,"r":2.03},
{"b":34,"v":0.02,"t":0,"r":2.08},{"b":34,"v":0.02,"t":2,"r":2.04},{"b":34,"v":0.02,"t":4,"r":2.1},{"b":34,"v":0.02,"t":7,"r":2.18},{"b":34,"v":0.02,"t":20,"r":2.2},{"b":34,"v":0.02,"t":30,"r":2.2},{"b":34,"v":0.02,"t":46,"r":2.33},{"b":34,"v":0.02,"t":60,"r":2.5},{"b":34,"v":0.02,"t":78,"r":2.54},{"b":34,"v":0.02,"t":90,"r":2.42},{"b":34,"v":0.02,"t":100,"r":2.21},{"b":34,"v":0.02,"t":105,"r":2.03},{"b":34,"v":0.02,"t":107,"r":1.93},{"b":34,"v":0.02,"t":110,"r":2.08},{"b":34,"v":0.02,"t":114,"r":2.18},{"b":34,"v":0.02,"t":117,"r":2.24},{"b":34,"v":0.02,"t":120,"r":2.2},{"b":34,"v":0.02,"t":123,"r":2.05},{"b":34,"v":0.02,"t":127,"r":1.98},{"b":34,"v":0.02,"t":134,"r":2.08},{"b":34,"v":0.02,"t":143,"r":2.42},{"b":34,"v":0.02,"t":152,"r":2.6},{"b":34,"v":0.02,"t":161,"r":2.7},{"b":34,"v":0.02,"t":174,"r":2.75},{"b":34,"v":0.02,"t":180,"r":2.75},{"b":34,"v":0.02,"t":188,"r":2.68},{"b":34,"v":0.02,"t":200,"r":2.5},{"b":34,"v":0.02,"t":206,"r":2.3},{"b":34,"v":0.02,"t":212,"r":2.1},{"b":34,"v":0.02,"t":219,"r":1.92},
{"b":35,"v":0,"t":0,"r":2.02},{"b":35,"v":0,"t":2,"r":2.0},{"b":35,"v":0,"t":4,"r":2.04},{"b":35,"v":0,"t":7,"r":2.1},{"b":35,"v":0,"t":20,"r":2.13},{"b":35,"v":0,"t":30,"r":2.13},{"b":35,"v":0,"t":46,"r":2.3},{"b":35,"v":0,"t":60,"r":2.47},{"b":35,"v":0,"t":78,"r":2.52},{"b":35,"v":0,"t":90,"r":2.4},{"b":35,"v":0,"t":100,"r":2.18},{"b":35,"v":0,"t":105,"r":2.0},{"b":35,"v":0,"t":107,"r":1.88},{"b":35,"v":0,"t":110,"r":2.0},{"b":35,"v":0,"t":114,"r":2.1},{"b":35,"v":0,"t":117,"r":2.18},{"b":35,"v":0,"t":120,"r":2.12},{"b":35,"v":0,"t":123,"r":1.95},{"b":35,"v":0,"t":127,"r":1.9},{"b":35,"v":0,"t":134,"r":2.0},{"b":35,"v":0,"t":143,"r":2.3},{"b":35,"v":0,"t":152,"r":2.45},{"b":35,"v":0,"t":161,"r":2.55},{"b":35,"v":0,"t":174,"r":2.6},{"b":35,"v":0,"t":180,"r":2.62},{"b":35,"v":0,"t":188,"r":2.55},{"b":35,"v":0,"t":200,"r":2.38},{"b":35,"v":0,"t":206,"r":2.2},{"b":35,"v":0,"t":212,"r":2.0},{"b":35,"v":0,"t":219,"r":1.8}],
"lines":[
{"c":1,"t":0,"r":9.52},{"c":1,"t":2,"r":9.17},{"c":1,"t":3,"r":9.03},{"c":1,"t":4,"r":9.22},{"c":1,"t":5,"r":9.24},{"c":1,"t":7,"r":9.14},{"c":1,"t":12,"r":9.09},{"c":1,"t":21,"r":9.08},{"c":1,"t":30,"r":9.0},{"c":1,"t":39,"r":9.09},{"c":1,"t":46,"r":9.17},{"c":1,"t":50,"r":9.29},{"c":1,"t":60,"r":9.64},{"c":1,"t":70,"r":9.87},{"c":1,"t":78,"r":10.0},{"c":1,"t":85,"r":10.02},{"c":1,"t":90,"r":9.92},{"c":1,"t":95,"r":9.82},{"c":1,"t":100,"r":9.59},{"c":1,"t":105,"r":9.22},{"c":1,"t":107,"r":9.03},{"c":1,"t":109,"r":8.99},{"c":1,"t":111,"r":9.11},{"c":1,"t":114,"r":9.32},{"c":1,"t":117,"r":9.4},{"c":1,"t":120,"r":9.34},{"c":1,"t":123,"r":9.14},{"c":1,"t":127,"r":8.96},{"c":1,"t":129,"r":8.94},{"c":1,"t":134,"r":9.07},{"c":1,"t":137,"r":9.22},{"c":1,"t":143,"r":9.75},{"c":1,"t":147,"r":10.1},{"c":1,"t":212,"r":10.1},{"c":1,"t":213.4,"r":9.92},{"c":1,"t":219,"r":9.48},
{"c":2,"t":0,"r":7.8},{"c":2,"t":2,"r":7.36},{"c":2,"t":3,"r":7.43},{"c":2,"t":4,"r":7.59},{"c":2,"t":5,"r":7.56},{"c":2,"t":7,"r":7.5},{"c":2,"t":12,"r":7.47},{"c":2,"t":21,"r":7.45},{"c":2,"t":30,"r":7.41},{"c":2,"t":39,"r":7.52},{"c":2,"t":46,"r":7.56},{"c":2,"t":50,"r":7.71},{"c":2,"t":60,"r":8.01},{"c":2,"t":70,"r":8.19},{"c":2,"t":78,"r":8.26},{"c":2,"t":85,"r":8.22},{"c":2,"t":90,"r":8.16},{"c":2,"t":95,"r":8.01},{"c":2,"t":100,"r":7.75},{"c":2,"t":105,"r":7.48},{"c":2,"t":107,"r":7.36},{"c":2,"t":109,"r":7.34},{"c":2,"t":111,"r":7.51},{"c":2,"t":114,"r":7.71},{"c":2,"t":117,"r":7.77},{"c":2,"t":120,"r":7.74},{"c":2,"t":123,"r":7.53},{"c":2,"t":127,"r":7.33},{"c":2,"t":129,"r":7.32},{"c":2,"t":134,"r":7.45},{"c":2,"t":137,"r":7.63},{"c":2,"t":143,"r":8.11},{"c":2,"t":147,"r":8.39},{"c":2,"t":152,"r":8.76},{"c":2,"t":161,"r":9.03},{"c":2,"t":168,"r":9.17},{"c":2,"t":174,"r":9.35},{"c":2,"t":180,"r":9.41},{"c":2,"t":188,"r":9.31},{"c":2,"t":195,"r":9.14},{"c":2,"t":200,"r":8.96},{"c":2,"t":206,"r":8.62},{"c":2,"t":213,"r":8.16},{"c":2,"t":219,"r":7.75},
{"c":3,"t":0,"r":5.96},{"c":3,"t":2,"r":5.57},{"c":3,"t":3,"r":5.75},{"c":3,"t":4,"r":5.85},{"c":3,"t":7,"r":5.78},{"c":3,"t":12,"r":5.76},{"c":3,"t":21,"r":5.79},{"c":3,"t":30,"r":5.75},{"c":3,"t":39,"r":5.87},{"c":3,"t":46,"r":5.91},{"c":3,"t":50,"r":6.02},{"c":3,"t":60,"r":6.27},{"c":3,"t":70,"r":6.39},{"c":3,"t":78,"r":6.46},{"c":3,"t":85,"r":6.43},{"c":3,"t":90,"r":6.38},{"c":3,"t":95,"r":6.24},{"c":3,"t":100,"r":6.0},{"c":3,"t":105,"r":5.72},{"c":3,"t":107,"r":5.63},{"c":3,"t":109,"r":5.63},{"c":3,"t":111,"r":5.79},{"c":3,"t":114,"r":6.0},{"c":3,"t":117,"r":6.06},{"c":3,"t":120,"r":6.02},{"c":3,"t":123,"r":5.82},{"c":3,"t":127,"r":5.66},{"c":3,"t":129,"r":5.66},{"c":3,"t":134,"r":5.79},{"c":3,"t":137,"r":5.94},{"c":3,"t":143,"r":6.43},{"c":3,"t":147,"r":6.65},{"c":3,"t":152,"r":6.95},{"c":3,"t":161,"r":7.18},{"c":3,"t":168,"r":7.27},{"c":3,"t":174,"r":7.41},{"c":3,"t":180,"r":7.47},{"c":3,"t":188,"r":7.36},{"c":3,"t":195,"r":7.21},{"c":3,"t":200,"r":7.06},{"c":3,"t":206,"r":6.77},{"c":3,"t":213,"r":6.35},{"c":3,"t":219,"r":6.0},
{"c":4,"t":0,"r":4.74},{"c":4,"t":2,"r":4.39},{"c":4,"t":3,"r":4.51},{"c":4,"t":4,"r":4.63},{"c":4,"t":7,"r":4.57},{"c":4,"t":12,"r":4.57},{"c":4,"t":21,"r":4.62},{"c":4,"t":30,"r":4.58},{"c":4,"t":39,"r":4.71},{"c":4,"t":46,"r":4.74},{"c":4,"t":50,"r":4.84},{"c":4,"t":60,"r":5.02},{"c":4,"t":70,"r":5.14},{"c":4,"t":78,"r":5.19},{"c":4,"t":85,"r":5.13},{"c":4,"t":90,"r":5.07},{"c":4,"t":95,"r":4.95},{"c":4,"t":100,"r":4.72},{"c":4,"t":105,"r":4.51},{"c":4,"t":107,"r":4.43},{"c":4,"t":109,"r":4.43},{"c":4,"t":111,"r":4.65},{"c":4,"t":114,"r":4.81},{"c":4,"t":117,"r":4.86},{"c":4,"t":120,"r":4.8},{"c":4,"t":123,"r":4.59},{"c":4,"t":127,"r":4.46},{"c":4,"t":129,"r":4.49},{"c":4,"t":134,"r":4.62},{"c":4,"t":137,"r":4.8},{"c":4,"t":143,"r":5.14},{"c":4,"t":147,"r":5.34},{"c":4,"t":152,"r":5.6},{"c":4,"t":161,"r":5.78},{"c":4,"t":168,"r":5.85},{"c":4,"t":174,"r":5.96},{"c":4,"t":180,"r":5.99},{"c":4,"t":188,"r":5.87},{"c":4,"t":195,"r":5.72},{"c":4,"t":200,"r":5.6},{"c":4,"t":206,"r":5.37},{"c":4,"t":213,"r":4.99},{"c":4,"t":219,"r":4.64},
{"c":5,"t":0,"r":3.86},{"c":5,"t":2,"r":3.54},{"c":5,"t":3,"r":3.66},{"c":5,"t":4,"r":3.76},{"c":5,"t":7,"r":3.68},{"c":5,"t":12,"r":3.7},{"c":5,"t":21,"r":3.74},{"c":5,"t":30,"r":3.7},{"c":5,"t":39,"r":3.82},{"c":5,"t":46,"r":3.85},{"c":5,"t":50,"r":3.94},{"c":5,"t":60,"r":4.13},{"c":5,"t":70,"r":4.21},{"c":5,"t":78,"r":4.23},{"c":5,"t":85,"r":4.16},{"c":5,"t":90,"r":4.09},{"c":5,"t":95,"r":3.97},{"c":5,"t":100,"r":3.74},{"c":5,"t":105,"r":3.56},{"c":5,"t":107,"r":3.51},{"c":5,"t":109,"r":3.53},{"c":5,"t":111,"r":3.74},{"c":5,"t":114,"r":3.89},{"c":5,"t":117,"r":3.91},{"c":5,"t":120,"r":3.86},{"c":5,"t":123,"r":3.67},{"c":5,"t":127,"r":3.53},{"c":5,"t":129,"r":3.53},{"c":5,"t":134,"r":3.63},{"c":5,"t":137,"r":3.74},{"c":5,"t":143,"r":4.09},{"c":5,"t":147,"r":4.25},{"c":5,"t":152,"r":4.49},{"c":5,"t":161,"r":4.62},{"c":5,"t":168,"r":4.66},{"c":5,"t":174,"r":4.74},{"c":5,"t":180,"r":4.77},{"c":5,"t":188,"r":4.66},{"c":5,"t":195,"r":4.54},{"c":5,"t":200,"r":4.42},{"c":5,"t":206,"r":4.21},{"c":5,"t":213,"r":3.9},{"c":5,"t":219,"r":3.58},
{"c":6,"t":0,"r":3.15},{"c":6,"t":2,"r":2.9},{"c":6,"t":3,"r":2.99},{"c":6,"t":4,"r":3.06},{"c":6,"t":7,"r":3.0},{"c":6,"t":12,"r":3.0},{"c":6,"t":21,"r":3.06},{"c":6,"t":30,"r":3.0},{"c":6,"t":39,"r":3.11},{"c":6,"t":46,"r":3.14},{"c":6,"t":50,"r":3.23},{"c":6,"t":60,"r":3.38},{"c":6,"t":70,"r":3.44},{"c":6,"t":78,"r":3.45},{"c":6,"t":85,"r":3.39},{"c":6,"t":90,"r":3.33},{"c":6,"t":95,"r":3.23},{"c":6,"t":100,"r":3.03},{"c":6,"t":105,"r":2.87},{"c":6,"t":107,"r":2.82},{"c":6,"t":109,"r":2.84},{"c":6,"t":111,"r":2.99},{"c":6,"t":114,"r":3.11},{"c":6,"t":117,"r":3.14},{"c":6,"t":120,"r":3.09},{"c":6,"t":123,"r":2.93},{"c":6,"t":127,"r":2.79},{"c":6,"t":129,"r":2.79},{"c":6,"t":134,"r":2.84},{"c":6,"t":137,"r":2.93},{"c":6,"t":143,"r":3.18},{"c":6,"t":147,"r":3.3},{"c":6,"t":152,"r":3.5},{"c":6,"t":161,"r":3.59},{"c":6,"t":168,"r":3.62},{"c":6,"t":174,"r":3.68},{"c":6,"t":180,"r":3.68},{"c":6,"t":188,"r":3.59},{"c":6,"t":195,"r":3.45},{"c":6,"t":200,"r":3.36},{"c":6,"t":206,"r":3.18},{"c":6,"t":213,"r":2.93},{"c":6,"t":219,"r":2.6},
{"c":7,"t":0,"r":2.55},{"c":7,"t":2,"r":2.34},{"c":7,"t":3,"r":2.4},{"c":7,"t":4,"r":2.46},{"c":7,"t":7,"r":2.41},{"c":7,"t":12,"r":2.43},{"c":7,"t":21,"r":2.47},{"c":7,"t":30,"r":2.41},{"c":7,"t":39,"r":2.5},{"c":7,"t":46,"r":2.53},{"c":7,"t":50,"r":2.61},{"c":7,"t":60,"r":2.73},{"c":7,"t":70,"r":2.76},{"c":7,"t":78,"r":2.78},{"c":7,"t":85,"r":2.73},{"c":7,"t":90,"r":2.68},{"c":7,"t":95,"r":2.58},{"c":7,"t":100,"r":2.43},{"c":7,"t":105,"r":2.25},{"c":7,"t":107,"r":2.19},{"c":7,"t":109,"r":2.2},{"c":7,"t":111,"r":2.35},{"c":7,"t":114,"r":2.44},{"c":7,"t":117,"r":2.47},{"c":7,"t":120,"r":2.41},{"c":7,"t":123,"r":2.28},{"c":7,"t":127,"r":2.16},{"c":7,"t":129,"r":2.17},{"c":7,"t":134,"r":2.19},{"c":7,"t":137,"r":2.25},{"c":7,"t":143,"r":2.47},{"c":7,"t":147,"r":2.53},{"c":7,"t":152,"r":2.67},{"c":7,"t":161,"r":2.75},{"c":7,"t":168,"r":2.78},{"c":7,"t":174,"r":2.79},{"c":7,"t":180,"r":2.81},{"c":7,"t":188,"r":2.7},{"c":7,"t":195,"r":2.61},{"c":7,"t":200,"r":2.53},{"c":7,"t":206,"r":2.38},{"c":7,"t":213,"r":2.14},{"c":7,"t":219,"r":1.88},
{"c":8,"t":0,"r":2.0},{"c":8,"t":2,"r":1.89},{"c":8,"t":4,"r":1.99},{"c":8,"t":7,"r":1.96},{"c":8,"t":21,"r":1.98},{"c":8,"t":30,"r":1.93},{"c":8,"t":39,"r":1.99},{"c":8,"t":46,"r":2.02},{"c":8,"t":50,"r":2.08},{"c":8,"t":60,"r":2.17},{"c":8,"t":70,"r":2.22},{"c":8,"t":78,"r":2.23},{"c":8,"t":85,"r":2.19},{"c":8,"t":90,"r":2.14},{"c":8,"t":95,"r":2.05},{"c":8,"t":100,"r":1.92},{"c":8,"t":105,"r":1.78},{"c":8,"t":107,"r":1.72},{"c":8,"t":109,"r":1.72},{"c":8,"t":111,"r":1.83},{"c":8,"t":114,"r":1.9},{"c":8,"t":117,"r":1.93},{"c":8,"t":120,"r":1.89},{"c":8,"t":123,"r":1.78},{"c":8,"t":127,"r":1.66},{"c":8,"t":134,"r":1.67},{"c":8,"t":137,"r":1.72},{"c":8,"t":143,"r":1.87},{"c":8,"t":147,"r":1.93},{"c":8,"t":152,"r":2.02},{"c":8,"t":161,"r":2.08},{"c":8,"t":168,"r":2.1},{"c":8,"t":174,"r":2.11},{"c":8,"t":180,"r":2.11},{"c":8,"t":188,"r":2.02},{"c":8,"t":195,"r":1.96},{"c":8,"t":200,"r":1.9},{"c":8,"t":206,"r":1.78},{"c":8,"t":213,"r":1.6},{"c":8,"t":219,"r":1.4},
{"c":9,"t":0,"r":1.7},{"c":9,"t":2,"r":1.55},{"c":9,"t":4,"r":1.63},{"c":9,"t":7,"r":1.6},{"c":9,"t":21,"r":1.63},{"c":9,"t":30,"r":1.57},{"c":9,"t":39,"r":1.63},{"c":9,"t":46,"r":1.66},{"c":9,"t":50,"r":1.72},{"c":9,"t":60,"r":1.78},{"c":9,"t":70,"r":1.81},{"c":9,"t":78,"r":1.81},{"c":9,"t":85,"r":1.79},{"c":9,"t":90,"r":1.75},{"c":9,"t":95,"r":1.67},{"c":9,"t":100,"r":1.55},{"c":9,"t":105,"r":1.42},{"c":9,"t":107,"r":1.39},{"c":9,"t":109,"r":1.39},{"c":9,"t":111,"r":1.48},{"c":9,"t":114,"r":1.54},{"c":9,"t":117,"r":1.55},{"c":9,"t":120,"r":1.52},{"c":9,"t":123,"r":1.42},{"c":9,"t":127,"r":1.33},{"c":9,"t":134,"r":1.33},{"c":9,"t":137,"r":1.37},{"c":9,"t":143,"r":1.48},{"c":9,"t":147,"r":1.52},{"c":9,"t":152,"r":1.6},{"c":9,"t":161,"r":1.64},{"c":9,"t":168,"r":1.66},{"c":9,"t":174,"r":1.69},{"c":9,"t":180,"r":1.69},{"c":9,"t":188,"r":1.63},{"c":9,"t":195,"r":1.55},{"c":9,"t":200,"r":1.49},{"c":9,"t":206,"r":1.42},{"c":9,"t":213,"r":1.26},{"c":9,"t":219,"r":1.1},
{"c":10,"t":0,"r":1.42},{"c":10,"t":2,"r":1.28},{"c":10,"t":4,"r":1.36},{"c":10,"t":7,"r":1.33},{"c":10,"t":21,"r":1.34},{"c":10,"t":30,"r":1.31},{"c":10,"t":39,"r":1.36},{"c":10,"t":46,"r":1.39},{"c":10,"t":50,"r":1.43},{"c":10,"t":60,"r":1.49},{"c":10,"t":78,"r":1.5},{"c":10,"t":85,"r":1.46},{"c":10,"t":90,"r":1.43},{"c":10,"t":95,"r":1.34},{"c":10,"t":100,"r":1.27},{"c":10,"t":105,"r":1.19},{"c":10,"t":107,"r":1.15},{"c":10,"t":109,"r":1.16},{"c":10,"t":111,"r":1.22},{"c":10,"t":114,"r":1.27},{"c":10,"t":117,"r":1.3},{"c":10,"t":120,"r":1.25},{"c":10,"t":123,"r":1.18},{"c":10,"t":127,"r":1.1},{"c":10,"t":134,"r":1.1},{"c":10,"t":137,"r":1.12},{"c":10,"t":143,"r":1.21},{"c":10,"t":147,"r":1.25},{"c":10,"t":152,"r":1.31},{"c":10,"t":161,"r":1.34},{"c":10,"t":168,"r":1.36},{"c":10,"t":174,"r":1.37},{"c":10,"t":180,"r":1.37},{"c":10,"t":188,"r":1.31},{"c":10,"t":195,"r":1.27},{"c":10,"t":200,"r":1.22},{"c":10,"t":206,"r":1.13},{"c":10,"t":213,"r":1.02},{"c":10,"t":219,"r":0.9},
{"c":11,"t":0,"r":1.19},{"c":11,"t":2,"r":1.09},{"c":11,"t":4,"r":1.15},{"c":11,"t":7,"r":1.12},{"c":11,"t":21,"r":1.13},{"c":11,"t":30,"r":1.1},{"c":11,"t":39,"r":1.13},{"c":11,"t":46,"r":1.15},{"c":11,"t":50,"r":1.19},{"c":11,"t":60,"r":1.24},{"c":11,"t":78,"r":1.26},{"c":11,"t":85,"r":1.24},{"c":11,"t":90,"r":1.19},{"c":11,"t":95,"r":1.15},{"c":11,"t":100,"r":1.07},{"c":11,"t":105,"r":1.0},{"c":11,"t":107,"r":0.97},{"c":11,"t":109,"r":0.97},{"c":11,"t":111,"r":1.03},{"c":11,"t":114,"r":1.06},{"c":11,"t":117,"r":1.09},{"c":11,"t":120,"r":1.04},{"c":11,"t":123,"r":0.98},{"c":11,"t":127,"r":0.92},{"c":11,"t":134,"r":0.9},{"c":11,"t":137,"r":0.92},{"c":11,"t":143,"r":0.97},{"c":11,"t":147,"r":1.03},{"c":11,"t":152,"r":1.1},{"c":11,"t":161,"r":1.12},{"c":11,"t":168,"r":1.12},{"c":11,"t":174,"r":1.13},{"c":11,"t":180,"r":1.13},{"c":11,"t":188,"r":1.09},{"c":11,"t":195,"r":1.04},{"c":11,"t":200,"r":1.0},{"c":11,"t":206,"r":0.94},{"c":11,"t":213,"r":0.85},{"c":11,"t":219,"r":0.73}],
"frame":[{"t":0,"t2":219,"r":0,"r2":0},{"t":0,"t2":219,"r":10,"r2":10},{"t":0,"t2":0,"r":0,"r2":10},{"t":219,"t2":219,"r":0,"r2":10},
{"t":10,"t2":10,"r":0,"r2":0.21},{"t":20,"t2":20,"r":0,"r2":0.21},{"t":30,"t2":30,"r":0,"r2":0.21},{"t":40,"t2":40,"r":0,"r2":0.21},{"t":50,"t2":50,"r":0,"r2":0.45},{"t":60,"t2":60,"r":0,"r2":0.21},{"t":70,"t2":70,"r":0,"r2":0.21},{"t":80,"t2":80,"r":0,"r2":0.21},{"t":90,"t2":90,"r":0,"r2":0.21},{"t":100,"t2":100,"r":0,"r2":0.45},{"t":110,"t2":110,"r":0,"r2":0.21},{"t":120,"t2":120,"r":0,"r2":0.21},{"t":130,"t2":130,"r":0,"r2":0.21},{"t":140,"t2":140,"r":0,"r2":0.21},{"t":150,"t2":150,"r":0,"r2":0.45},{"t":160,"t2":160,"r":0,"r2":0.21},{"t":170,"t2":170,"r":0,"r2":0.21},{"t":180,"t2":180,"r":0,"r2":0.21},{"t":190,"t2":190,"r":0,"r2":0.21},{"t":200,"t2":200,"r":0,"r2":0.45},{"t":210,"t2":210,"r":0,"r2":0.21},
{"t":10,"t2":10,"r":10,"r2":9.79},{"t":20,"t2":20,"r":10,"r2":9.79},{"t":30,"t2":30,"r":10,"r2":9.79},{"t":40,"t2":40,"r":10,"r2":9.79},{"t":50,"t2":50,"r":10,"r2":9.55},{"t":60,"t2":60,"r":10,"r2":9.79},{"t":70,"t2":70,"r":10,"r2":9.79},{"t":80,"t2":80,"r":10,"r2":9.79},{"t":90,"t2":90,"r":10,"r2":9.79},{"t":100,"t2":100,"r":10,"r2":9.55},{"t":110,"t2":110,"r":10,"r2":9.79},{"t":120,"t2":120,"r":10,"r2":9.79},{"t":130,"t2":130,"r":10,"r2":9.79},{"t":140,"t2":140,"r":10,"r2":9.79},{"t":150,"t2":150,"r":10,"r2":9.55},{"t":160,"t2":160,"r":10,"r2":9.79},{"t":170,"t2":170,"r":10,"r2":9.79},{"t":180,"t2":180,"r":10,"r2":9.79},{"t":190,"t2":190,"r":10,"r2":9.79},{"t":200,"t2":200,"r":10,"r2":9.55},{"t":210,"t2":210,"r":10,"r2":9.79},
{"t":0,"t2":4.5,"r":2,"r2":2},{"t":0,"t2":4.5,"r":4,"r2":4},{"t":0,"t2":4.5,"r":6,"r2":6},{"t":0,"t2":4.5,"r":8,"r2":8},{"t":219,"t2":214.5,"r":2,"r2":2},{"t":219,"t2":214.5,"r":4,"r2":4},{"t":219,"t2":214.5,"r":6,"r2":6},{"t":219,"t2":214.5,"r":8,"r2":8}],
"marks":[{"t":107,"t2":107,"r":0,"r2":9.76},{"t":127,"t2":127,"r":0,"r2":9.76}],
"dash":[{"t":0,"t2":219,"r":5.79,"r2":5.79}],
"white":[{"t":65,"r":9.4,"s":"3.0"},{"t":65,"r":3.18,"s":"2.0"},{"t":65,"r":0.98,"s":"1.0"}],
"big":[{"t":10,"r":0.3,"s":"27L"}],
"sub":[{"t":26.8,"r":0.09,"s":"A"}],
"pink":[{"t":108.3,"r":10.3,"s":"107 s"},{"t":128.3,"r":10.3,"s":"127 s"}],
"bar":[{"v":0,"v2":0.005},{"v":0.005,"v2":0.01},{"v":0.01,"v2":0.015},{"v":0.015,"v2":0.02},{"v":0.02,"v2":0.025},{"v":0.025,"v2":0.03},{"v":0.03,"v2":0.035},{"v":0.035,"v2":0.04},{"v":0.04,"v2":0.045},{"v":0.045,"v2":0.05},{"v":0.05,"v2":0.055},{"v":0.055,"v2":0.06},{"v":0.06,"v2":0.065},{"v":0.065,"v2":0.07},{"v":0.07,"v2":0.075},{"v":0.075,"v2":0.08},{"v":0.08,"v2":0.085},{"v":0.085,"v2":0.09},{"v":0.09,"v2":0.095},{"v":0.095,"v2":0.1},{"v":0.1,"v2":0.105},{"v":0.105,"v2":0.11},{"v":0.11,"v2":0.115},{"v":0.115,"v2":0.12},{"v":0.12,"v2":0.125},{"v":0.125,"v2":0.13},{"v":0.13,"v2":0.135},{"v":0.135,"v2":0.14},{"v":0.14,"v2":0.145},{"v":0.145,"v2":0.15},{"v":0.15,"v2":0.155},{"v":0.155,"v2":0.16},{"v":0.16,"v2":0.165},{"v":0.165,"v2":0.17},{"v":0.17,"v2":0.175},{"v":0.175,"v2":0.18},{"v":0.18,"v2":0.185},{"v":0.185,"v2":0.19},{"v":0.19,"v2":0.195},{"v":0.195,"v2":0.2},{"v":0.2,"v2":0.205},{"v":0.205,"v2":0.21},{"v":0.21,"v2":0.215},{"v":0.215,"v2":0.22},{"v":0.22,"v2":0.225},{"v":0.225,"v2":0.23},{"v":0.23,"v2":0.235},{"v":0.235,"v2":0.24},{"v":0.24,"v2":0.245},{"v":0.245,"v2":0.25},{"v":0.25,"v2":0.255},{"v":0.255,"v2":0.26},{"v":0.26,"v2":0.265},{"v":0.265,"v2":0.27},{"v":0.27,"v2":0.275},{"v":0.275,"v2":0.28},{"v":0.28,"v2":0.285},{"v":0.285,"v2":0.29},{"v":0.29,"v2":0.295},{"v":0.295,"v2":0.3},{"v":0.3,"v2":0.305},{"v":0.305,"v2":0.31},{"v":0.31,"v2":0.315},{"v":0.315,"v2":0.32},{"v":0.32,"v2":0.325},{"v":0.325,"v2":0.33},{"v":0.33,"v2":0.335},{"v":0.335,"v2":0.34},{"v":0.34,"v2":0.345},{"v":0.345,"v2":0.35},{"v":0.35,"v2":0.355},{"v":0.355,"v2":0.36},{"v":0.36,"v2":0.365},{"v":0.365,"v2":0.37},{"v":0.37,"v2":0.375},{"v":0.375,"v2":0.38},{"v":0.38,"v2":0.385},{"v":0.385,"v2":0.39},{"v":0.39,"v2":0.395},{"v":0.395,"v2":0.4}],
"barframe":[{"x":0,"x2":1,"v":0,"v2":0},{"x":0,"x2":1,"v":0.4,"v2":0.4},{"x":0,"x2":0,"v":0,"v2":0.4},{"x":1,"x2":1,"v":0,"v2":0.4},
{"x":0,"x2":0.24,"v":0.05,"v2":0.05},{"x":0,"x2":0.24,"v":0.1,"v2":0.1},{"x":0,"x2":0.24,"v":0.15,"v2":0.15},{"x":0,"x2":0.24,"v":0.2,"v2":0.2},{"x":0,"x2":0.24,"v":0.25,"v2":0.25},{"x":0,"x2":0.24,"v":0.3,"v2":0.3},{"x":0,"x2":0.24,"v":0.35,"v2":0.35},
{"x":1,"x2":0.76,"v":0.05,"v2":0.05},{"x":1,"x2":0.76,"v":0.1,"v2":0.1},{"x":1,"x2":0.76,"v":0.15,"v2":0.15},{"x":1,"x2":0.76,"v":0.2,"v2":0.2},{"x":1,"x2":0.76,"v":0.25,"v2":0.25},{"x":1,"x2":0.76,"v":0.3,"v2":0.3},{"x":1,"x2":0.76,"v":0.35,"v2":0.35}],
"bartitle":[{"x":-0.47,"v":0.418,"s":"X"}],
"bartitle2":[{"x":0.13,"v":0.418,"s":"(Si)"}]
},
"hconcat":[
{"width":1058,"height":663,
"encoding":{"x":{"field":"t","type":"quantitative","scale":{"domain":[0,219],"nice":false,"zero":false},"axis":{"title":"Time (s)","values":[0,50,100,150,200],"labelOffset":7,"labelPadding":35,"titlePadding":25}},
"y":{"field":"r","type":"quantitative","scale":{"domain":[0,10],"nice":false},"axis":{"title":"Radius (10⁸ cm)","values":[0,2,4,6,8,10],"labelPadding":54,"titlePadding":14}}},
"layer":[
{"data":{"name":"bg"},"mark":{"type":"area","orient":"vertical","clip":true,"opacity":1,"interpolate":"monotone"},"encoding":{"y2":{"datum":0},"detail":{"field":"b"},"color":{"field":"v","type":"quantitative","scale":{"domain":[0,0.0286,0.0571,0.0857,0.1143,0.1429,0.1714,0.2,0.2286,0.2571,0.2857,0.3143,0.3429,0.3714,0.4],"range":["#30123b","#4145ab","#4675ed","#39a2fc","#1bcfd4","#24eca6","#61fc6c","#a4fc3b","#d1e834","#f3c63a","#fe9b2d","#f36315","#d93806","#b11901","#7a0402"],"interpolate":"rgb"},"legend":null}}},
{"data":{"name":"blobs"},"mark":{"type":"area","orient":"vertical","opacity":1,"interpolate":"monotone"},"encoding":{"y2":{"field":"r0"},"detail":{"field":"b"},"color":{"field":"v","type":"quantitative","scale":{"domain":[0,0.0286,0.0571,0.0857,0.1143,0.1429,0.1714,0.2,0.2286,0.2571,0.2857,0.3143,0.3429,0.3714,0.4],"range":["#30123b","#4145ab","#4675ed","#39a2fc","#1bcfd4","#24eca6","#61fc6c","#a4fc3b","#d1e834","#f3c63a","#fe9b2d","#f36315","#d93806","#b11901","#7a0402"],"interpolate":"rgb"},"legend":null}}},
{"data":{"name":"heat"},"mark":{"type":"area","orient":"vertical","clip":true,"opacity":1,"interpolate":"monotone"},"encoding":{"y2":{"datum":0},"detail":{"field":"b"},"color":{"field":"v","type":"quantitative","scale":{"domain":[0,0.0286,0.0571,0.0857,0.1143,0.1429,0.1714,0.2,0.2286,0.2571,0.2857,0.3143,0.3429,0.3714,0.4],"range":["#30123b","#4145ab","#4675ed","#39a2fc","#1bcfd4","#24eca6","#61fc6c","#a4fc3b","#d1e834","#f3c63a","#fe9b2d","#f36315","#d93806","#b11901","#7a0402"],"interpolate":"rgb"},"legend":null}}},
{"data":{"name":"frame"},"mark":{"type":"rule","color":"black","strokeWidth":3.6},"encoding":{"x2":{"field":"t2"},"y2":{"field":"r2"}}},
{"data":{"name":"lines"},"mark":{"type":"line","color":"white","strokeWidth":3,"clip":true,"interpolate":"monotone"},"encoding":{"detail":{"field":"c"},"order":{"field":"t"}}},
{"data":{"name":"dash"},"mark":{"type":"rule","color":"white","strokeWidth":2.6,"strokeDash":[60,60]},"encoding":{"x2":{"field":"t2"},"y2":{"field":"r2"}}},
{"data":{"name":"marks"},"mark":{"type":"rule","color":"#ff00ff","strokeWidth":3.6,"strokeDash":[24,24]},"encoding":{"x2":{"field":"t2"},"y2":{"field":"r2"}}},
{"data":{"name":"white"},"mark":{"type":"text","color":"white","fontWeight":"bold","fontSize":36,"align":"center","baseline":"middle"},"encoding":{"text":{"field":"s"}}},
{"data":{"name":"big"},"mark":{"type":"text","color":"white","fontWeight":"bold","fontSize":48,"align":"left","baseline":"alphabetic"},"encoding":{"text":{"field":"s"}}},
{"data":{"name":"sub"},"mark":{"type":"text","color":"white","fontWeight":"bold","fontSize":35,"align":"left","baseline":"alphabetic"},"encoding":{"text":{"field":"s"}}},
{"data":{"name":"pink"},"mark":{"type":"text","color":"#ff00ff","fontWeight":"bold","fontSize":35,"align":"center","baseline":"middle"},"encoding":{"text":{"field":"s"}}}
]},
{"width":53.5,"height":663,
"layer":[
{"data":{"name":"bar"},"mark":{"type":"rect","strokeWidth":1},"encoding":{"y":{"field":"v","type":"quantitative","scale":{"domain":[0,0.4],"nice":false},"axis":{"orient":"right","title":null,"values":[0,0.05,0.1,0.15,0.2,0.25,0.3,0.35,0.4],"format":"~g","labelPadding":40,"labelAlign":"left"}},"y2":{"field":"v2"},"fill":{"field":"v","type":"quantitative","scale":{"domain":[0,0.0286,0.0571,0.0857,0.1143,0.1429,0.1714,0.2,0.2286,0.2571,0.2857,0.3143,0.3429,0.3714,0.4],"range":["#30123b","#4145ab","#4675ed","#39a2fc","#1bcfd4","#24eca6","#61fc6c","#a4fc3b","#d1e834","#f3c63a","#fe9b2d","#f36315","#d93806","#b11901","#7a0402"],"interpolate":"rgb"},"legend":null},"stroke":{"field":"v","type":"quantitative","scale":{"domain":[0,0.0286,0.0571,0.0857,0.1143,0.1429,0.1714,0.2,0.2286,0.2571,0.2857,0.3143,0.3429,0.3714,0.4],"range":["#30123b","#4145ab","#4675ed","#39a2fc","#1bcfd4","#24eca6","#61fc6c","#a4fc3b","#d1e834","#f3c63a","#fe9b2d","#f36315","#d93806","#b11901","#7a0402"],"interpolate":"rgb"},"legend":null}}},
{"data":{"name":"barframe"},"mark":{"type":"rule","color":"black","strokeWidth":3.6},"encoding":{"x":{"field":"x","type":"quantitative","scale":{"domain":[0,1],"nice":false},"axis":null},"x2":{"field":"x2"},"y":{"field":"v","type":"quantitative"},"y2":{"field":"v2"}}},
{"data":{"name":"bartitle"},"mark":{"type":"text","font":"Liberation Serif","fontSize":46,"fontStyle":"italic","align":"left","baseline":"middle","color":"black"},"encoding":{"x":{"field":"x","type":"quantitative"},"y":{"field":"v","type":"quantitative"},"text":{"field":"s"}}},
{"data":{"name":"bartitle2"},"mark":{"type":"text","fontSize":46,"align":"left","baseline":"middle","color":"black"},"encoding":{"x":{"field":"x","type":"quantitative"},"y":{"field":"v","type":"quantitative"},"text":{"field":"s"}}}
]}
]}
